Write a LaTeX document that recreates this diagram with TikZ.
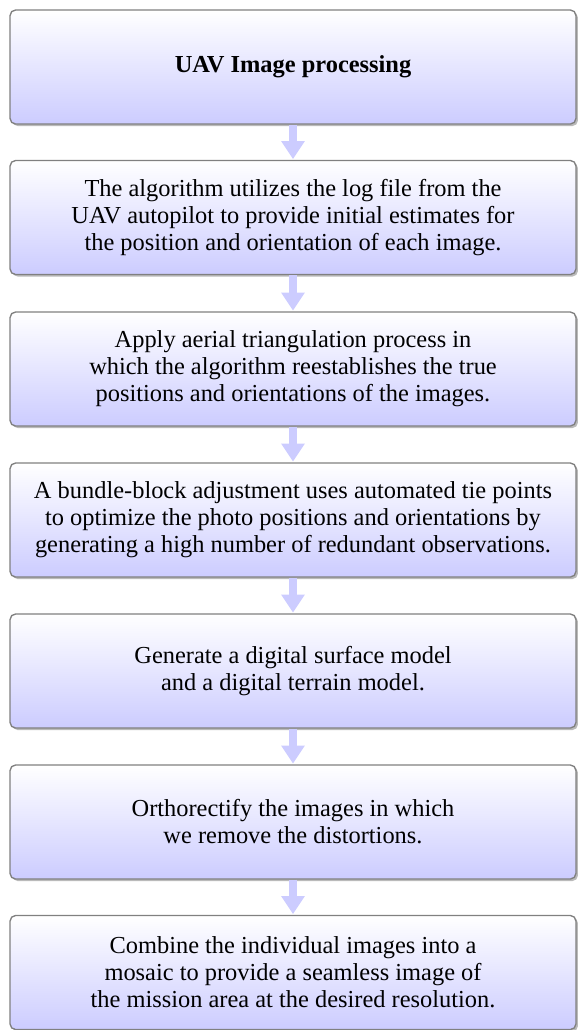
\documentclass[tikz,border=0pt]{standalone}
\usepackage{fontspec}
\setmainfont{Liberation Serif}
\usetikzlibrary{arrows.meta,shadows}
\begin{document}
\begin{tikzpicture}[x=0.4444pt,y=-0.4444pt,
  stagebox/.style={draw=black!50, line width=0.6pt, rounded corners=2.5pt,
    top color=white, bottom color=blue!20,
    minimum width=251.5pt, minimum height=50.7pt, align=center,
    font=\fontsize{10.85}{12}\selectfont,
    drop shadow={shadow xshift=0.9pt, shadow yshift=-0.9pt, opacity=0.6, fill=black!45}},
  flow/.style={draw=blue!20, line width=3.5pt, -{Triangle[length=8pt,width=10pt]}, shorten >=0.3pt}]
\useasboundingbox (0,0) rectangle (578,1030);
\node[stagebox] (b1) at (293,67) {\textbf{UAV Image processing}};
\node[stagebox] (b2) at (293,217.5) {The algorithm utilizes the log file from the\\UAV autopilot to provide initial estimates for\\the position and orientation of each image.};
\node[stagebox] (b3) at (293,369) {Apply aerial triangulation process in\\which the algorithm reestablishes the true\\positions and orientations of the images.};
\node[stagebox] (b4) at (293,520) {A bundle-block adjustment uses automated tie points\\to optimize the photo positions and orientations by\\generating a high number of redundant observations.};
\node[stagebox] (b5) at (293,671) {Generate a digital surface model\\and a digital terrain model.};
\node[stagebox] (b6) at (293,822) {Orthorectify the images in which\\we remove the distortions.};
\node[stagebox] (b7) at (293,972.5) {Combine the individual images into a\\mosaic to provide a seamless image of\\the mission area at the desired resolution.};
\draw[flow] (b1.south) -- (b2.north);
\draw[flow] (b2.south) -- (b3.north);
\draw[flow] (b3.south) -- (b4.north);
\draw[flow] (b4.south) -- (b5.north);
\draw[flow] (b5.south) -- (b6.north);
\draw[flow] (b6.south) -- (b7.north);
\end{tikzpicture}
\end{document}
